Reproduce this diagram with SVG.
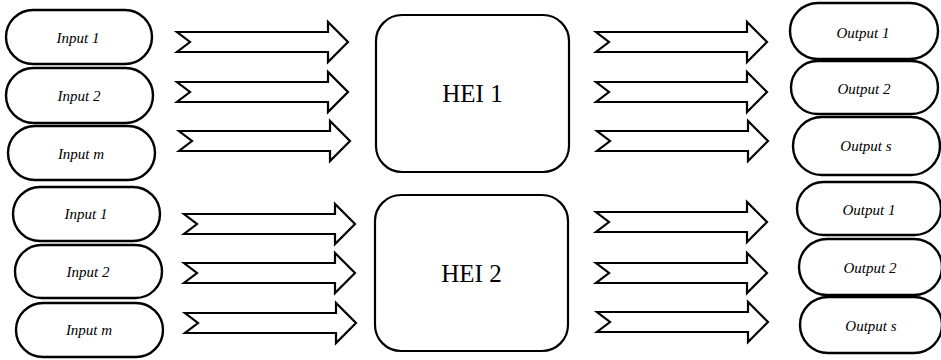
<svg xmlns="http://www.w3.org/2000/svg" xmlns:xlink="http://www.w3.org/1999/xlink" width="941" height="360" viewBox="0 0 941 360">
  <style>
    .pill { fill: #fff; stroke: #000; stroke-width: 2.4; }
    .hei { fill: #fff; stroke: #000; stroke-width: 2.2; }
    .arrow { fill: #fff; stroke: #000; stroke-width: 2.2; stroke-linejoin: miter; }
    .lbl { font-family: 'Liberation Serif', 'DejaVu Serif', serif; font-style: italic; font-size: 15px; text-anchor: middle; fill: #000; }
    .big { font-family: 'Liberation Serif', 'DejaVu Serif', serif; font-size: 25px; text-anchor: middle; fill: #000; }
  </style>
  <defs>
    <!-- block arrow with a notched tail; origin at the tail, centred vertically -->
    <path id="blockArrow" class="arrow" d="M0,-10 H151 V-20 L171,0 L151,20 V10 H0 L13,0 Z"/>
  </defs>
  <rect width="941" height="360" fill="#fff"/>

  <!-- inputs, first institution -->
  <g id="in1-1"><rect class="pill" x="6" y="10" width="146" height="54" rx="27"/><text class="lbl" x="78" y="43">Input 1</text></g>
  <g id="in1-2"><rect class="pill" x="6" y="68" width="147" height="55" rx="27.5"/><text class="lbl" x="79" y="101">Input 2</text></g>
  <g id="in1-m"><rect class="pill" x="8" y="126" width="147" height="54" rx="27"/><text class="lbl" x="81" y="159">Input m</text></g>

  <!-- inputs, second institution -->
  <g id="in2-1"><rect class="pill" x="13" y="187" width="147" height="54" rx="27"/><text class="lbl" x="86" y="219">Input 1</text></g>
  <g id="in2-2"><rect class="pill" x="15" y="245" width="147" height="53" rx="26.5"/><text class="lbl" x="88" y="277">Input 2</text></g>
  <g id="in2-m"><rect class="pill" x="16" y="303" width="147" height="54" rx="27"/><text class="lbl" x="89" y="335">Input m</text></g>

  <!-- institutions -->
  <g id="hei1"><rect class="hei" x="376" y="15" width="193" height="157" rx="26"/><text class="big" x="472.5" y="102">HEI 1</text></g>
  <g id="hei2"><rect class="hei" x="375" y="195" width="193" height="156" rx="26"/><text class="big" x="471.5" y="282">HEI 2</text></g>

  <!-- outputs, first institution -->
  <g id="out1-1"><rect class="pill" x="790" y="3" width="148" height="56" rx="28"/><text class="lbl" x="863" y="38">Output 1</text></g>
  <g id="out1-2"><rect class="pill" x="791" y="61" width="147" height="53" rx="26.5"/><text class="lbl" x="864" y="94">Output 2</text></g>
  <g id="out1-s"><rect class="pill" x="793" y="117" width="147" height="58" rx="29"/><text class="lbl" x="866" y="151">Output s</text></g>

  <!-- outputs, second institution -->
  <g id="out2-1"><rect class="pill" x="797" y="182" width="144" height="53" rx="26.5"/><text class="lbl" x="869" y="215">Output 1</text></g>
  <g id="out2-2"><rect class="pill" x="799" y="239" width="143" height="56" rx="28"/><text class="lbl" x="870" y="273">Output 2</text></g>
  <g id="out2-s"><rect class="pill" x="800" y="297" width="142" height="56" rx="28"/><text class="lbl" x="871" y="331">Output s</text></g>

  <!-- connectors -->
  <g id="connectors">
    <use xlink:href="#blockArrow" x="177" y="42"/>
    <use xlink:href="#blockArrow" x="177" y="92"/>
    <use xlink:href="#blockArrow" x="179" y="141"/>
    <use xlink:href="#blockArrow" x="184" y="224"/>
    <use xlink:href="#blockArrow" x="184" y="273"/>
    <use xlink:href="#blockArrow" x="185" y="323"/>
    <use xlink:href="#blockArrow" x="596" y="42"/>
    <use xlink:href="#blockArrow" x="596" y="92"/>
    <use xlink:href="#blockArrow" x="597" y="141"/>
    <use xlink:href="#blockArrow" x="596" y="222"/>
    <use xlink:href="#blockArrow" x="596" y="273"/>
    <use xlink:href="#blockArrow" x="597" y="322"/>
  </g>
</svg>
